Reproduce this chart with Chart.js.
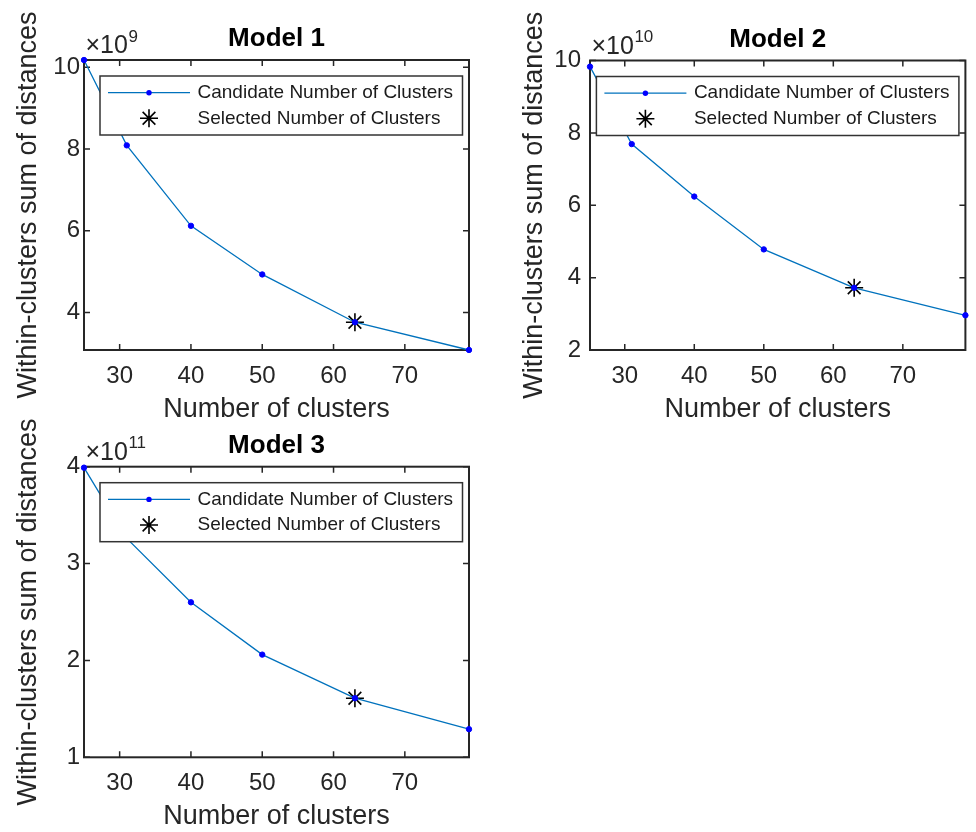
<!DOCTYPE html>
<html>
<head>
<meta charset="utf-8">
<title>Within-clusters sum of distances</title>
<script src="https://cdn.jsdelivr.net/npm/chart.js@4.4.1/dist/chart.umd.min.js"></script>
<style>
  html, body { margin: 0; padding: 0; background: #fff; }
  #figure { position: relative; width: 976px; height: 832px; overflow: hidden; }
  #figure canvas { position: absolute; left: 0; top: 0; }
</style>
</head>
<body>
<div id="figure">
  <canvas id="model1" width="976" height="832"></canvas>
  <canvas id="model2" width="976" height="832"></canvas>
  <canvas id="model3" width="976" height="832"></canvas>
</div>
<script>
// candidate cluster counts and the one that was picked
const clusterCounts = [25, 31, 40, 50, 63, 79];
const selectedCount = 63;
const xTicks = [30, 40, 50, 60, 70];

// within-cluster sums, scaled by the exponent shown above each axis
const model1Sums = [10.18, 8.09, 6.12, 4.93, 3.76, 3.08];   // x 10^9
const model2Sums = [9.83, 7.69, 6.24, 4.78, 3.72, 2.96];    // x 10^10
const model3Sums = [3.99, 3.26, 2.60, 2.06, 1.61, 1.29];    // x 10^11

const model1Ticks = [4, 6, 8, 10];
const model2Ticks = [2, 4, 6, 8, 10];
const model3Ticks = [1, 2, 3, 4];

const titles = ['Model 1', 'Model 2', 'Model 3'];
const exponents = [9, 10, 11];
const legendLabels = ['Candidate Number of Clusters', 'Selected Number of Clusters'];
const xLabel = 'Number of clusters';
const yLabel = 'Within-clusters sum of distances';

const FONT = 'Arial, "Liberation Sans", Helvetica, sans-serif';
const TEXT = '#262626';
const Y_WIDTH = 84;
const X_HEIGHT = 80;

const panels = [
  { id: 'model1', sums: model1Sums, ticks: model1Ticks, yMin: Math.min(...model1Sums), yMax: Math.max(...model1Sums),
    area: { left: 84, top: 60, right: 469, bottom: 350 }, tickPad: 4 },
  { id: 'model2', sums: model2Sums, ticks: model2Ticks, yMin: 2, yMax: 10,
    area: { left: 590, top: 60.5, right: 976, bottom: 350 }, tickPad: 9 },
  { id: 'model3', sums: model3Sums, ticks: model3Ticks, yMin: 1, yMax: 4,
    area: { left: 84, top: 466.7, right: 469, bottom: 757.3 }, tickPad: 4 }
];

// box, inward ticks on all sides, exponent and an opaque legend
const matlabAxes = {
  id: 'matlabAxes',
  beforeDatasetsDraw(chart) {
    const { ctx, chartArea: a, scales: { x, y } } = chart;
    const len = 6;
    ctx.save();
    ctx.strokeStyle = TEXT;
    ctx.lineWidth = 1.5;
    ctx.beginPath();
    x.ticks.forEach(t => {
      const px = x.getPixelForValue(t.value);
      ctx.moveTo(px, a.bottom); ctx.lineTo(px, a.bottom - len);
      ctx.moveTo(px, a.top); ctx.lineTo(px, a.top + len);
    });
    y.ticks.forEach(t => {
      const py = y.getPixelForValue(t.value);
      ctx.moveTo(a.left, py); ctx.lineTo(a.left + len, py);
      ctx.moveTo(a.right, py); ctx.lineTo(a.right - len, py);
    });
    ctx.stroke();
    ctx.lineWidth = 2;
    ctx.strokeRect(a.left, a.top, a.right - a.left, a.bottom - a.top);
    ctx.restore();
  },
  afterDraw(chart, args, opts) {
    const { ctx, chartArea: a } = chart;
    ctx.save();

    // x10^n above the y axis
    ctx.fillStyle = TEXT;
    ctx.textAlign = 'left';
    ctx.textBaseline = 'alphabetic';
    ctx.font = '25px ' + FONT;
    const base = '\u00D710';
    ctx.fillText(base, a.left + 1.5, a.top - 6.7);
    const w = ctx.measureText(base).width;
    ctx.font = '17px ' + FONT;
    ctx.fillText(String(opts.exponent), a.left + 2 + w, a.top - 18.3);

    // legend in the north-east corner
    const box = { left: a.right - 369, top: a.top + 16, w: 362.5, h: 59 };
    ctx.fillStyle = '#fff';
    ctx.fillRect(box.left, box.top, box.w, box.h);
    ctx.strokeStyle = '#333';
    ctx.lineWidth = 1.5;
    ctx.strokeRect(box.left, box.top, box.w, box.h);

    const [cand, sel] = chart.data.datasets;
    const row1 = box.top + 16.7;
    const row2 = box.top + 42.3;
    const mx = box.left + 49;

    ctx.strokeStyle = cand.borderColor;
    ctx.lineWidth = cand.borderWidth;
    ctx.beginPath();
    ctx.moveTo(box.left + 8, row1);
    ctx.lineTo(box.left + 90, row1);
    ctx.stroke();
    ctx.fillStyle = cand.pointBackgroundColor;
    ctx.beginPath();
    ctx.arc(mx, row1, cand.pointRadius, 0, Math.PI * 2);
    ctx.fill();

    ctx.strokeStyle = sel.pointBorderColor;
    ctx.lineWidth = sel.pointBorderWidth;
    const r = sel.pointRadius;
    const d = r * Math.SQRT1_2;
    ctx.beginPath();
    ctx.moveTo(mx - r, row2); ctx.lineTo(mx + r, row2);
    ctx.moveTo(mx, row2 - r); ctx.lineTo(mx, row2 + r);
    ctx.moveTo(mx - d, row2 - d); ctx.lineTo(mx + d, row2 + d);
    ctx.moveTo(mx - d, row2 + d); ctx.lineTo(mx + d, row2 - d);
    ctx.stroke();

    ctx.fillStyle = '#1a1a1a';
    ctx.font = '19px ' + FONT;
    ctx.textBaseline = 'middle';
    ctx.fillText(cand.label, box.left + 97.5, row1);
    ctx.fillText(sel.label, box.left + 97.5, row2);
    ctx.restore();
  }
};

// fixed scale sizes so every plot box lands where it should
function fixX(s) {
  s.height = X_HEIGHT;
  s.paddingLeft = 0;
  s.paddingRight = 0;
}
function fixY(s) {
  s.width = Y_WIDTH;
  s.paddingTop = 0;
  s.paddingBottom = 0;
}

function makeChart(p, i) {
  const a = p.area;
  const candidates = clusterCounts.map((x, k) => ({ x, y: p.sums[k] }));
  const pick = clusterCounts.indexOf(selectedCount);
  const selected = [{ x: selectedCount, y: p.sums[pick] }];

  return new Chart(document.getElementById(p.id), {
    type: 'line',
    data: {
      datasets: [
        {
          label: legendLabels[0],
          data: candidates,
          borderColor: '#0072BD',
          borderWidth: 1.3,
          pointRadius: 2.7,
          pointBackgroundColor: '#0000FF',
          pointBorderColor: '#0000FF',
          pointBorderWidth: 1,
          tension: 0,
          clip: false
        },
        {
          label: legendLabels[1],
          data: selected,
          showLine: false,
          pointStyle: 'star',
          pointRadius: 9,
          pointBorderColor: '#000',
          pointBackgroundColor: '#000',
          pointBorderWidth: 1.6,
          clip: false
        }
      ]
    },
    options: {
      responsive: false,
      animation: false,
      devicePixelRatio: 1,
      events: [],
      layout: {
        padding: {
          left: a.left - Y_WIDTH,
          top: a.top - 60,
          right: 976 - a.right,
          bottom: 832 - a.bottom - X_HEIGHT
        }
      },
      plugins: {
        legend: { display: false },
        tooltip: { enabled: false },
        title: {
          display: true,
          text: titles[i],
          fullSize: false,
          color: '#000',
          font: { family: FONT, size: 26, weight: 'bold', lineHeight: 1.2 },
          padding: { top: 23.4, bottom: 5.4 }
        },
        matlabAxes: { exponent: exponents[i] }
      },
      scales: {
        x: {
          type: 'linear',
          min: 25,
          max: 79,
          grid: { display: false, drawTicks: false },
          border: { display: false },
          afterFit: fixX,
          afterBuildTicks: s => { s.ticks = xTicks.map(v => ({ value: v })); },
          ticks: {
            autoSkip: false, maxRotation: 0, padding: 12, color: TEXT,
            font: { family: FONT, size: 24, lineHeight: 1.2 },
            callback: v => String(v)
          },
          title: {
            display: true, text: xLabel, color: TEXT,
            font: { family: FONT, size: 27, lineHeight: 1.2 },
            padding: { top: 0, bottom: 4.7 }
          }
        },
        y: {
          type: 'linear',
          min: p.yMin,
          max: p.yMax,
          grid: { display: false, drawTicks: false },
          border: { display: false },
          afterFit: fixY,
          afterBuildTicks: s => { s.ticks = p.ticks.map(v => ({ value: v })); },
          ticks: {
            autoSkip: false, padding: p.tickPad, color: TEXT,
            font: { family: FONT, size: 24, lineHeight: 1.2 },
            callback: v => String(v)
          },
          title: {
            display: true, text: yLabel, color: TEXT,
            font: { family: FONT, size: 27, lineHeight: 1.2 },
            padding: { top: 12, bottom: 0 }
          }
        }
      }
    },
    plugins: [matlabAxes]
  });
}

panels.forEach(makeChart);
</script>
</body>
</html>
